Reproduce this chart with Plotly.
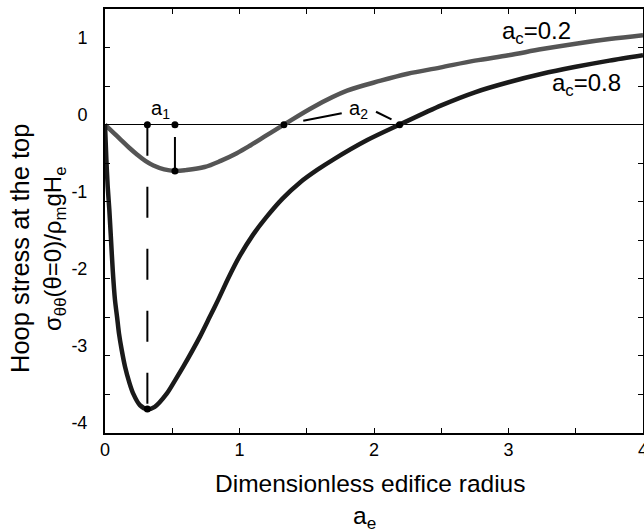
import plotly.graph_objects as go

# ---- data ----
gray_x = [0, 0.06, 0.12, 0.18, 0.24, 0.30, 0.36, 0.44, 0.52, 0.60, 0.74, 0.86, 0.98,
          1.08, 1.20, 1.33, 1.55, 1.80, 2.05, 2.25, 2.49, 2.75, 3.00, 3.25, 3.50, 3.75, 4.00]
gray_y = [0, -0.10, -0.20, -0.30, -0.39, -0.47, -0.53, -0.58, -0.60, -0.59, -0.55, -0.47, -0.37,
          -0.27, -0.14, 0, 0.23, 0.44, 0.57, 0.66, 0.74, 0.83, 0.90, 0.98, 1.05, 1.11, 1.16]

black_x = [0, 0.01, 0.02, 0.032, 0.045, 0.058, 0.074, 0.09, 0.104, 0.125, 0.149, 0.18, 0.21,
           0.26, 0.315, 0.37, 0.459, 0.52, 0.582, 0.706, 0.78, 0.842, 0.92, 1.0, 1.1, 1.2,
           1.32, 1.45, 1.58, 1.7, 1.95, 2.19, 2.5, 2.75, 3.0, 3.25, 3.5, 3.75, 4.0]
black_y = [0, -0.45, -0.8, -1.1, -1.5, -1.9, -2.27, -2.5, -2.71, -2.93, -3.14, -3.34, -3.49,
           -3.64, -3.69, -3.66, -3.49, -3.32, -3.14, -2.75, -2.49, -2.27, -1.98, -1.71, -1.43, -1.20,
           -0.96, -0.75, -0.585, -0.45, -0.2, 0, 0.25, 0.42, 0.55, 0.66, 0.75, 0.83, 0.90]

a1_black = 0.315      # position of black-curve minimum
a1_black_min = -3.69
a1_gray = 0.52        # position of gray-curve minimum
a1_gray_min = -0.60
a1_gray_top = -0.16   # start of solid marker line
a2_gray = 1.33        # zero crossings
a2_black = 2.19

a2_left_x = [1.474, 1.76]
a2_left_y = [0.05, 0.147]
a2_right_x = [2.015, 2.13]
a2_right_y = [0.167, 0.069]

x_ticks = [0, 0.5, 1, 1.5, 2, 2.5, 3, 3.5, 4]
y_ticks = [-4, -3.5, -3, -2.5, -2, -1.5, -1, -0.5, 0, 0.5, 1]

FONT = "Liberation Sans, Arial, Helvetica, sans-serif"
BLACK = "#1a1a1a"
GRAY = "#555555"

fig = go.Figure()

fig.add_trace(go.Scatter(x=gray_x, y=gray_y, mode="lines",
                         line=dict(color=GRAY, width=4.5, shape="spline", smoothing=1.0),
                         hoverinfo="skip"))
fig.add_trace(go.Scatter(x=black_x, y=black_y, mode="lines",
                         line=dict(color=BLACK, width=4.5, shape="spline", smoothing=0.8),
                         hoverinfo="skip"))

# dashed vertical at black minimum
fig.add_trace(go.Scatter(x=[a1_black, a1_black], y=[0, a1_black_min], mode="lines",
                         line=dict(color="black", width=2, dash="31px,31px")))
# solid vertical at gray minimum
fig.add_trace(go.Scatter(x=[a1_gray, a1_gray], y=[a1_gray_top, a1_gray_min], mode="lines",
                         line=dict(color="black", width=2)))
# a2 connector strokes
fig.add_trace(go.Scatter(x=a2_left_x, y=a2_left_y, mode="lines",
                         line=dict(color="black", width=2)))
fig.add_trace(go.Scatter(x=a2_right_x, y=a2_right_y, mode="lines",
                         line=dict(color="black", width=2)))

# dots
fig.add_trace(go.Scatter(
    x=[a1_black, a1_gray, a2_gray, a2_black, a1_black, a1_gray],
    y=[0, 0, 0, 0, a1_black_min, a1_gray_min],
    mode="markers", marker=dict(color="black", size=7)))

ann = []
ann.append(dict(x=0.413, y=0.2, xref="x", yref="y", text="a<sub>1</sub>", showarrow=False,
                font=dict(size=20, color="black", family=FONT)))
ann.append(dict(x=1.885, y=0.2, xref="x", yref="y", text="a<sub>2</sub>", showarrow=False,
                font=dict(size=20, color="black", family=FONT)))
ann.append(dict(x=3.21, y=1.19, xref="x", yref="y", text="a<sub>c</sub>=0.2", showarrow=False,
                font=dict(size=24, color="black", family=FONT)))
ann.append(dict(x=3.58, y=0.52, xref="x", yref="y", text="a<sub>c</sub>=0.8", showarrow=False,
                font=dict(size=24, color="black", family=FONT)))
# x title (two lines)
ann.append(dict(x=0.4926, y=-0.12, xref="paper", yref="paper", xanchor="center", yanchor="middle",
                text="Dimensionless edifice radius", showarrow=False,
                font=dict(size=24.5, color="black", family=FONT)))
ann.append(dict(x=0.483, y=-0.199, xref="paper", yref="paper", xanchor="center", yanchor="middle",
                text="a<sub>e</sub>", showarrow=False,
                font=dict(size=24.5, color="black", family=FONT)))
# y title (two lines, rotated)
ann.append(dict(x=0, y=0.434, xref="paper", yref="paper", xshift=-85,
                xanchor="center", yanchor="middle",
                text="Hoop stress at the top", showarrow=False, textangle=-90,
                font=dict(size=25.5, color="black", family=FONT)))
ann.append(dict(x=0, y=0.434, xref="paper", yref="paper", xshift=-50,
                xanchor="center", yanchor="middle",
                text="σ<sub>θθ</sub>(θ=0)/ρ<sub>m</sub>gH<sub>e</sub>", showarrow=False, textangle=-90,
                font=dict(size=24, color="black", family=FONT)))

axis_common = dict(showline=True, linecolor="black", linewidth=2, mirror="ticks",
                   ticks="inside", ticklen=5, tickwidth=1.3, tickcolor="black",
                   showgrid=False, automargin=False, ticklabeloverflow="allow",
                   tickfont=dict(size=18, color="black", family=FONT))

fig.update_layout(
    width=644, height=531,
    margin=dict(l=105, r=1, t=9, b=98),
    paper_bgcolor="white", plot_bgcolor="white",
    showlegend=False,
    font=dict(family=FONT, color="black"),
    annotations=ann,
    xaxis=dict(range=[0, 4], tickvals=x_ticks,
               ticktext=[("%g" % v) if v == int(v) else "" for v in x_ticks],
               zeroline=False, ticklabelstandoff=-1, **axis_common),
    yaxis=dict(range=[-4, 1.5], tickvals=y_ticks,
               ticktext=[("%g" % v) if v == int(v) else "" for v in y_ticks],
               zeroline=True, zerolinecolor="black", zerolinewidth=1,
               ticklabelstandoff=12, ticklabelshift=-10, **axis_common),
)

fig.write_html("out.html", config={"displayModeBar": False},
               post_script="document.body.style.margin='0';document.body.style.overflow='hidden';")
